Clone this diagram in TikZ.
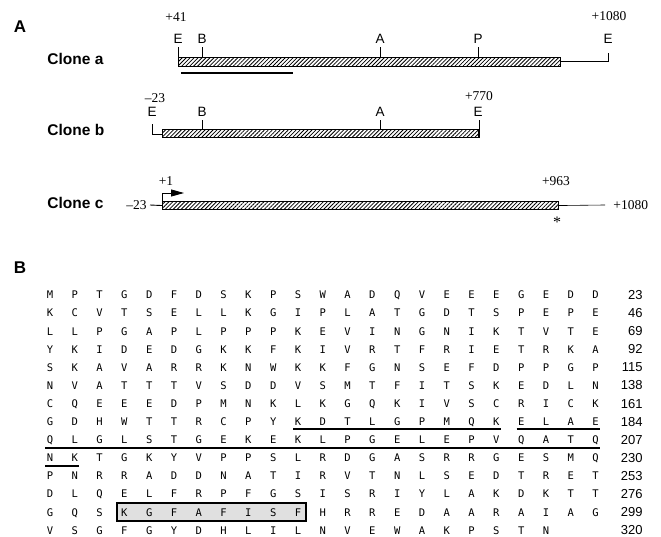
\documentclass[tikz,border=0pt]{standalone}
\usepackage{fontspec}
\setmainfont{Liberation Serif}
\setsansfont{Liberation Sans}
\newfontfamily\seqfont{DejaVu Sans Mono}
\usetikzlibrary{arrows.meta, patterns.meta, fit, backgrounds}

\begin{document}
\begin{tikzpicture}[x=1pt, y=-1pt, line width=0.9pt,
    panel/.style={font=\sffamily\bfseries\fontsize{17}{17}\selectfont, inner sep=0pt},
    clone/.style={font=\sffamily\bfseries\fontsize{15.5}{16}\selectfont, anchor=west, inner sep=0pt},
    site/.style={font=\sffamily\fontsize{13.5}{14}\selectfont, inner sep=0pt},
    ntpos/.style={font=\fontsize{13.5}{14}\selectfont, inner sep=0pt},
    orf/.style={draw, line width=1.1pt, pattern={Lines[angle=45, distance=2.8pt, line width=0.8pt]}, inner sep=0pt, anchor=north west},
    aa/.style={font=\seqfont\fontsize{10.5}{10.5}\selectfont, text height=7.6pt, text depth=0pt, inner xsep=1pt, inner ysep=3.5pt},
    num/.style={font=\sffamily\fontsize{13}{13}\selectfont, anchor=east, inner sep=0pt},
    uline/.style={line width=2pt}]
\useasboundingbox (0,0) rectangle (661,537);

% A: clones
\node[panel] (pa) at (20,27) {A};

\node[clone] (ca) at (47,59) {Clone a};
\node[orf, minimum width=382pt, minimum height=9pt] (orfa) at (178,57) {};
\node[ntpos] (a41) at (176,17) {+41};
\node[ntpos] (a1080) at (609,16) {+1080};
\foreach \x/\s/\nm in {178/E/e1, 202/B/b, 380/A/a, 478/P/p, 608/E/e2}
  \node[site] (a-\nm) at (\x,39) {\s};
\foreach \nm in {e1,b,a,p}
  \draw (a-\nm |- orfa.north) -- ++(0,-10);
\draw (orfa.east) -- (orfa.east -| a-e2) -- ++(0,-9);
\coordinate (probe-l) at (181,73);
\coordinate (probe-r) at (293,73);
\draw[line width=2.2pt] (probe-l) -- (probe-r);

\node[clone] (cb) at (47,130) {Clone b};
\node[orf, minimum width=316pt, minimum height=8pt] (orfb) at (162,129) {};
\node[ntpos] (b23) at (155,98) {\textendash23};
\node[ntpos] (b770) at (479,96) {+770};
\foreach \x/\s/\nm in {152/E/e1, 202/B/b, 380/A/a, 478/E/e2}
  \node[site] (b-\nm) at (\x,112) {\s};
\draw ([yshift=-7pt]b-e1.south) |- ([yshift=-1pt]orfb.west);
\foreach \nm in {b,a}
  \draw (b-\nm |- orfb.north) -- ++(0,-9);
\draw (orfb.south east) -- ++(0,-18);

\node[clone] (cc) at (47,203) {Clone c};
\node[orf, minimum width=396pt, minimum height=8pt] (orfc) at (162,201) {};
\node[ntpos] (c1) at (166,181) {+1};
\node[ntpos] (c963) at (556,181) {+963};
\node[ntpos, anchor=east] (c23) at (147,205) {\textendash23};
\node[ntpos, anchor=west] (c1080) at (613,205) {+1080};
\node[font=\fontsize{16}{16}\selectfont, inner sep=0pt] (stop) at (557,222) {*};
\draw[-{Triangle[length=13pt, width=7pt]}] (orfc.north west) -- ++(0,-8) -- ++(22,0);
\draw (c23.east) ++(3,0) -- (orfc.west);
\draw[line width=0.6pt] (orfc.east) -- ([xshift=-8pt]c1080.west);

% B: sequence
\node[panel] (pb) at (20,268) {B};
\foreach \r/\seq/\n in {
  0/{M,P,T,G,D,F,D,S,K,P,S,W,A,D,Q,V,E,E,E,G,E,D,D}/23,
  1/{K,C,V,T,S,E,L,L,K,G,I,P,L,A,T,G,D,T,S,P,E,P,E}/46,
  2/{L,L,P,G,A,P,L,P,P,P,K,E,V,I,N,G,N,I,K,T,V,T,E}/69,
  3/{Y,K,I,D,E,D,G,K,K,F,K,I,V,R,T,F,R,I,E,T,R,K,A}/92,
  4/{S,K,A,V,A,R,R,K,N,W,K,K,F,G,N,S,E,F,D,P,P,G,P}/115,
  5/{N,V,A,T,T,T,V,S,D,D,V,S,M,T,F,I,T,S,K,E,D,L,N}/138,
  6/{C,Q,E,E,E,D,P,M,N,K,L,K,G,Q,K,I,V,S,C,R,I,C,K}/161,
  7/{G,D,H,W,T,T,R,C,P,Y,K,D,T,L,G,P,M,Q,K,E,L,A,E}/184,
  8/{Q,L,G,L,S,T,G,E,K,E,K,L,P,G,E,L,E,P,V,Q,A,T,Q}/207,
  9/{N,K,T,G,K,Y,V,P,P,S,L,R,D,G,A,S,R,R,G,E,S,M,Q}/230,
  10/{P,N,R,R,A,D,D,N,A,T,I,R,V,T,N,L,S,E,D,T,R,E,T}/253,
  11/{D,L,Q,E,L,F,R,P,F,G,S,I,S,R,I,Y,L,A,K,D,K,T,T}/276,
  12/{G,Q,S,K,G,F,A,F,I,S,F,H,R,R,E,D,A,A,R,A,I,A,G}/299,
  13/{V,S,G,F,G,Y,D,H,L,I,L,N,V,E,W,A,K,P,S,T,N}/320}{
  \foreach \a [count=\c from 0] in \seq
    \node[aa] (s-\r-\c) at (50+24.8*\c, 295+18.1*\r) {\a};
  \node[num] (n-\r) at (643, 295+18.1*\r) {\n};
}
\draw[uline] (s-7-10.south west) -- (s-7-18.south east);
\draw[uline] (s-7-19.south west) -- (s-7-22.south east);
\draw[uline] (s-8-0.south west) -- (s-8-22.south east);
\draw[uline] (s-9-0.south west) -- (s-9-1.south east);
\node[draw, line width=2pt, fit=(s-12-3)(s-12-10), inner xsep=3pt, inner ysep=1.5pt] (motif) {};
\begin{scope}[on background layer]
  \fill[black!12] (motif.south west) rectangle (motif.north east);
\end{scope}
\end{tikzpicture}
\end{document}
